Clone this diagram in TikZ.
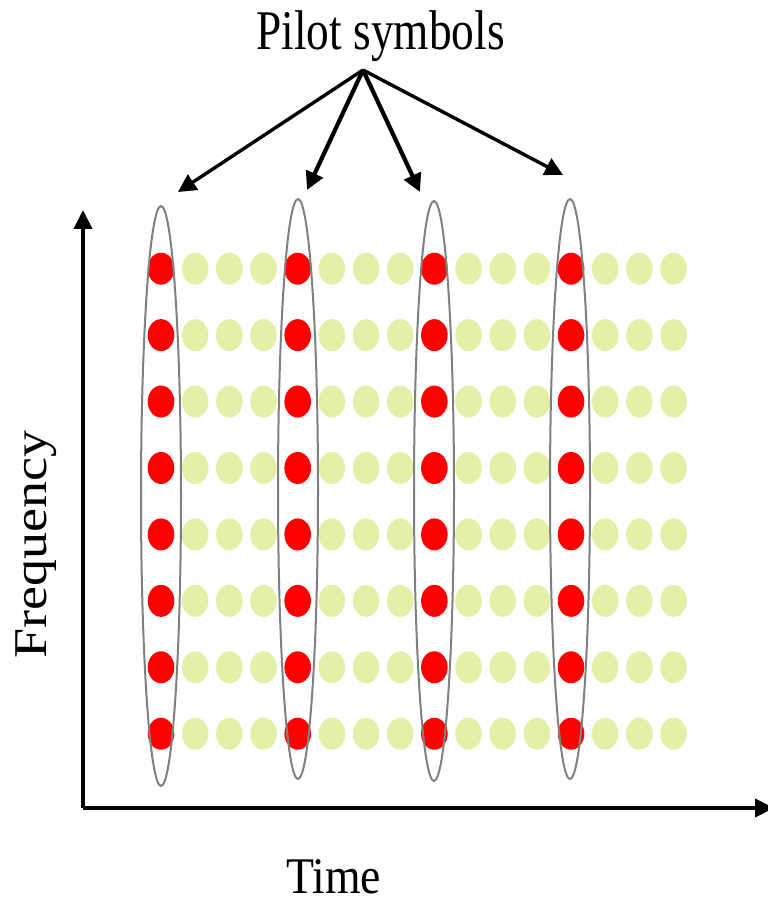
\documentclass[tikz,border=0pt]{standalone}
\usepackage{graphicx}
\usepackage{fontspec}
\setmainfont{Liberation Serif}
\usetikzlibrary{arrows.meta,shapes.geometric}
\definecolor{dotgreen}{RGB}{228,240,168}
\definecolor{pilotred}{RGB}{255,0,0}
\definecolor{ovalgray}{RGB}{128,128,128}
\begin{document}
\begin{tikzpicture}[x=0.5pt,y=-0.5pt,
  dot/.style={ellipse,inner sep=0pt,minimum width=13.3pt,minimum height=16pt,fill=dotgreen},
  pilotdot/.style={dot,fill=pilotred},
  oval/.style={ellipse,draw=ovalgray,line width=1pt,inner sep=0pt,minimum width=20pt,minimum height=290pt},
  axis/.style={line width=2pt,-{Triangle[length=9.5pt,width=9pt]}},
  pointer/.style={line width=1.7pt,-{Triangle[length=9pt,width=9pt]}},
  lbl/.style={inner sep=0pt,anchor=base}]
\useasboundingbox (0,0) rectangle (767,903);
% grid of symbols
\foreach \i in {0,...,15}{
  \foreach \j in {0,...,7}{
    \pgfmathtruncatemacro{\m}{mod(\i,4)}
    \ifnum\m=0
      \node[pilotdot] (d-\i-\j) at ({161+34.17*\i},{268.7+66.43*\j}) {};
    \else
      \node[dot] (d-\i-\j) at ({161+34.17*\i},{268.7+66.43*\j}) {};
    \fi
  }
}
% ovals around pilot columns
\node[oval] (o0) at (161,496) {};
\node[oval] (o1) at (298,489) {};
\node[oval] (o2) at (434,491) {};
\node[oval] (o3) at (570,489) {};
% axes
\coordinate (O) at (83,808);
\coordinate (ytip) at (83,210);
\coordinate (xtip) at (774,808);
\draw[axis] (O) -- (ytip);
\draw[axis] (O) -- (xtip);
% labels
\node[lbl] (pilot) at (380.5,50) {\fontsize{28}{34}\selectfont\scalebox{0.81}[1]{Pilot symbols}};
\node[lbl] (time) at (333.5,893) {\fontsize{25.7}{31}\selectfont\scalebox{0.89}[1]{Time}};
\node[lbl,rotate=90] (freq) at (46,544.5) {\fontsize{23.5}{28}\selectfont\scalebox{1.15}[1]{Frequency}};
% pointers
\coordinate (src) at (363,70);
\coordinate (t0) at (178,192);
\coordinate (t1) at (307,190);
\coordinate (t2) at (420,192);
\coordinate (t3) at (563,175);
\draw[pointer] (src) -- (t0);
\draw[pointer,line width=2.1pt] (src) -- (t1);
\draw[pointer,line width=2.1pt] (src) -- (t2);
\draw[pointer] (src) -- (t3);
\end{tikzpicture}
\end{document}
